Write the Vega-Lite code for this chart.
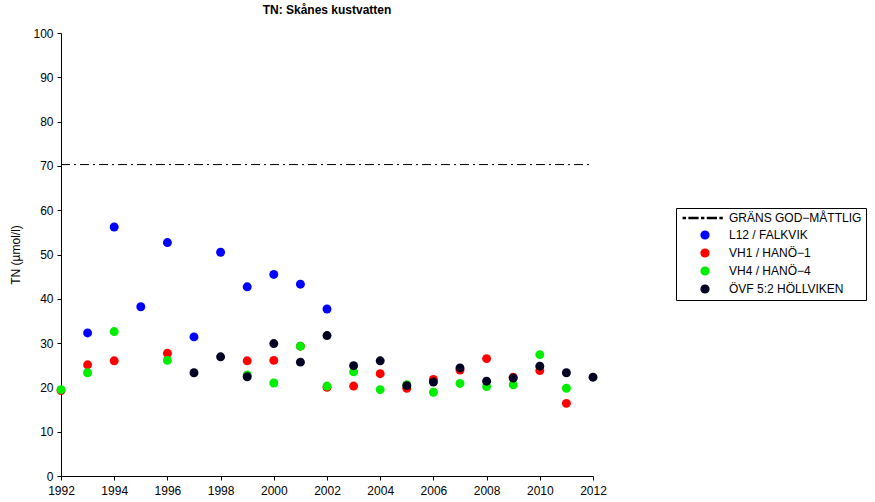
{
  "$schema": "https://vega.github.io/schema/vega-lite/v6.json",
  "width": 532,
  "height": 443,
  "autosize": {"type": "none"},
  "padding": {"left": 61, "top": 33, "right": 282, "bottom": 26},
  "background": "white",
  "title": {"text": "TN: Skånes kustvatten", "fontSize": 12, "font": "Liberation Sans", "fontWeight": "bold", "color": "black", "anchor": "middle", "offset": 10},
  "config": {
    "view": {"stroke": null},
    "axis": {"labelFont": "Liberation Sans", "titleFont": "Liberation Sans", "labelFontSize": 12, "titleFontSize": 12, "labelColor": "black", "titleColor": "black", "domainColor": "black", "tickColor": "black", "tickSize": 4, "grid": false, "titleFontWeight": "normal", "labelFlush": false, "labelOverlap": false},
    "legend": {"labelFont": "Liberation Sans", "labelFontSize": 12, "labelColor": "black"}
  },
  "datasets": {
    "thr": [{"series": "GRÄNS GOD−MÅTTLIG", "x": 1992, "x2": 2012, "y": 70.3}],
    "pts": [
      {"series": "L12 / FALKVIK", "year": 1993, "value": 32.3},
      {"series": "L12 / FALKVIK", "year": 1994, "value": 56.2},
      {"series": "L12 / FALKVIK", "year": 1995, "value": 38.2},
      {"series": "L12 / FALKVIK", "year": 1996, "value": 52.7},
      {"series": "L12 / FALKVIK", "year": 1997, "value": 31.4},
      {"series": "L12 / FALKVIK", "year": 1998, "value": 50.5},
      {"series": "L12 / FALKVIK", "year": 1999, "value": 42.7},
      {"series": "L12 / FALKVIK", "year": 2000, "value": 45.5},
      {"series": "L12 / FALKVIK", "year": 2001, "value": 43.3},
      {"series": "L12 / FALKVIK", "year": 2002, "value": 37.7},
      {"series": "VH1 / HANÖ−1", "year": 1992, "value": 19.3},
      {"series": "VH1 / HANÖ−1", "year": 1993, "value": 25.1},
      {"series": "VH1 / HANÖ−1", "year": 1994, "value": 26.0},
      {"series": "VH1 / HANÖ−1", "year": 1996, "value": 27.7},
      {"series": "VH1 / HANÖ−1", "year": 1999, "value": 26.0},
      {"series": "VH1 / HANÖ−1", "year": 2000, "value": 26.1},
      {"series": "VH1 / HANÖ−1", "year": 2001, "value": 29.3},
      {"series": "VH1 / HANÖ−1", "year": 2002, "value": 20.0},
      {"series": "VH1 / HANÖ−1", "year": 2003, "value": 20.3},
      {"series": "VH1 / HANÖ−1", "year": 2004, "value": 23.1},
      {"series": "VH1 / HANÖ−1", "year": 2005, "value": 19.8},
      {"series": "VH1 / HANÖ−1", "year": 2006, "value": 21.8},
      {"series": "VH1 / HANÖ−1", "year": 2007, "value": 23.9},
      {"series": "VH1 / HANÖ−1", "year": 2008, "value": 26.5},
      {"series": "VH1 / HANÖ−1", "year": 2009, "value": 22.3},
      {"series": "VH1 / HANÖ−1", "year": 2010, "value": 23.8},
      {"series": "VH1 / HANÖ−1", "year": 2011, "value": 16.4},
      {"series": "VH4 / HANÖ−4", "year": 1992, "value": 19.5},
      {"series": "VH4 / HANÖ−4", "year": 1993, "value": 23.3},
      {"series": "VH4 / HANÖ−4", "year": 1994, "value": 32.6},
      {"series": "VH4 / HANÖ−4", "year": 1996, "value": 26.1},
      {"series": "VH4 / HANÖ−4", "year": 1999, "value": 22.8},
      {"series": "VH4 / HANÖ−4", "year": 2000, "value": 21.0},
      {"series": "VH4 / HANÖ−4", "year": 2001, "value": 29.3},
      {"series": "VH4 / HANÖ−4", "year": 2002, "value": 20.3},
      {"series": "VH4 / HANÖ−4", "year": 2003, "value": 23.5},
      {"series": "VH4 / HANÖ−4", "year": 2004, "value": 19.5},
      {"series": "VH4 / HANÖ−4", "year": 2005, "value": 20.6},
      {"series": "VH4 / HANÖ−4", "year": 2006, "value": 18.9},
      {"series": "VH4 / HANÖ−4", "year": 2007, "value": 20.9},
      {"series": "VH4 / HANÖ−4", "year": 2008, "value": 20.2},
      {"series": "VH4 / HANÖ−4", "year": 2009, "value": 20.6},
      {"series": "VH4 / HANÖ−4", "year": 2010, "value": 27.4},
      {"series": "VH4 / HANÖ−4", "year": 2011, "value": 19.8},
      {"series": "ÖVF 5:2 HÖLLVIKEN", "year": 1997, "value": 23.3},
      {"series": "ÖVF 5:2 HÖLLVIKEN", "year": 1998, "value": 26.9},
      {"series": "ÖVF 5:2 HÖLLVIKEN", "year": 1999, "value": 22.4},
      {"series": "ÖVF 5:2 HÖLLVIKEN", "year": 2000, "value": 29.9},
      {"series": "ÖVF 5:2 HÖLLVIKEN", "year": 2001, "value": 25.7},
      {"series": "ÖVF 5:2 HÖLLVIKEN", "year": 2002, "value": 31.7},
      {"series": "ÖVF 5:2 HÖLLVIKEN", "year": 2003, "value": 24.9},
      {"series": "ÖVF 5:2 HÖLLVIKEN", "year": 2004, "value": 26.0},
      {"series": "ÖVF 5:2 HÖLLVIKEN", "year": 2005, "value": 20.4},
      {"series": "ÖVF 5:2 HÖLLVIKEN", "year": 2006, "value": 21.2},
      {"series": "ÖVF 5:2 HÖLLVIKEN", "year": 2007, "value": 24.4},
      {"series": "ÖVF 5:2 HÖLLVIKEN", "year": 2008, "value": 21.4},
      {"series": "ÖVF 5:2 HÖLLVIKEN", "year": 2009, "value": 22.1},
      {"series": "ÖVF 5:2 HÖLLVIKEN", "year": 2010, "value": 24.8},
      {"series": "ÖVF 5:2 HÖLLVIKEN", "year": 2011, "value": 23.3},
      {"series": "ÖVF 5:2 HÖLLVIKEN", "year": 2012, "value": 22.3}
    ]
  },
  "layer": [
    {
      "data": {"name": "thr"},
      "mark": {"type": "rule", "strokeDash": [9, 4, 2, 4], "strokeWidth": 1},
      "encoding": {
        "x": {"field": "x", "type": "quantitative"},
        "x2": {"field": "x2"},
        "y": {"field": "y", "type": "quantitative"},
        "color": {"field": "series", "type": "nominal"}
      }
    },
    {
      "data": {"name": "pts"},
      "mark": {"type": "point", "filled": true, "opacity": 1, "size": 80},
      "encoding": {
        "x": {"field": "year", "type": "quantitative", "scale": {"domain": [1992, 2012], "nice": false, "zero": false},
              "axis": {"title": null, "values": [1992, 1994, 1996, 1998, 2000, 2002, 2004, 2006, 2008, 2010, 2012], "format": "d", "labelPadding": 5}},
        "y": {"field": "value", "type": "quantitative", "scale": {"domain": [0, 100], "nice": false},
              "axis": {"title": "TN (µmol/l)", "values": [0, 10, 20, 30, 40, 50, 60, 70, 80, 90, 100], "labelPadding": 4, "titlePadding": 10}},
        "color": {"field": "series", "type": "nominal",
                  "scale": {"domain": ["GRÄNS GOD−MÅTTLIG", "L12 / FALKVIK", "VH1 / HANÖ−1", "VH4 / HANÖ−4", "ÖVF 5:2 HÖLLVIKEN"],
                            "range": ["#000000", "#0000ff", "#ff0000", "#00ee00", "#000022"]},
                  "legend": {"title": null, "orient": "none", "legendX": 615, "legendY": 175, "strokeColor": "black", "fillColor": "white", "padding": 4, "symbolSize": 60, "symbolOffset": 19, "labelOffset": 18, "rowPadding": 4, "cornerRadius": 0}},
        "shape": {"field": "series", "type": "nominal",
                  "scale": {"domain": ["GRÄNS GOD−MÅTTLIG", "L12 / FALKVIK", "VH1 / HANÖ−1", "VH4 / HANÖ−4", "ÖVF 5:2 HÖLLVIKEN"],
                            "range": ["M-5.6,-0.12H-5.1V0.12H-5.6Z M-4.1,-0.12H-1.85V0.12H-4.1Z M-0.85,-0.12H-0.35V0.12H-0.85Z M0.65,-0.12H2.9V0.12H0.65Z M3.9,-0.12H4.4V0.12H3.9Z", "circle", "circle", "circle", "circle"]},
                  "legend": {"title": null, "orient": "none", "legendX": 615, "legendY": 175, "strokeColor": "black", "fillColor": "white", "padding": 4, "symbolSize": 60, "symbolOffset": 19, "labelOffset": 18, "rowPadding": 4, "cornerRadius": 0}}
      }
    }
  ]
}
